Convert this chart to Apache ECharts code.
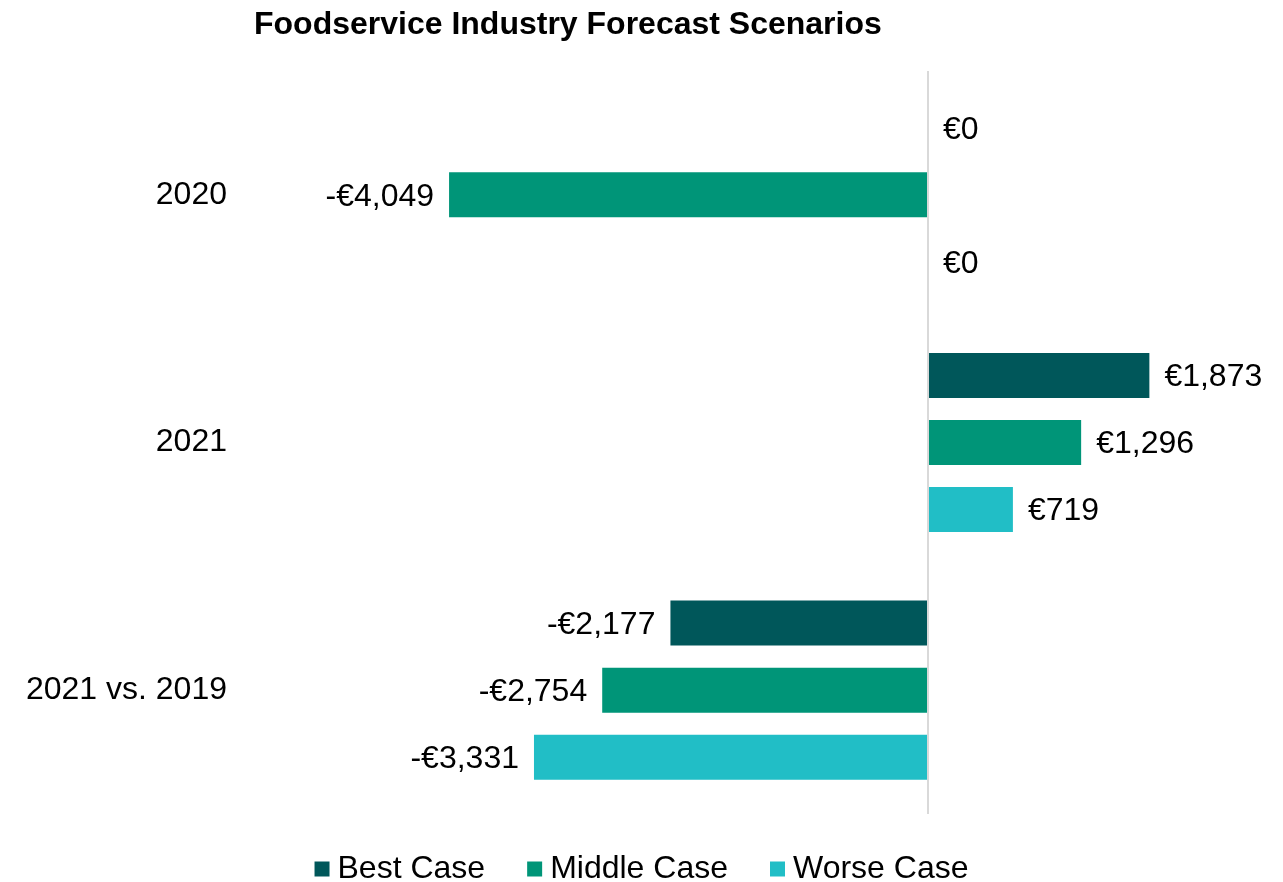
<!DOCTYPE html>
<html>
<head>
<meta charset="utf-8">
<title>Foodservice Industry Forecast Scenarios</title>
<script src="https://cdn.jsdelivr.net/npm/echarts@6/dist/echarts.min.js"></script>
<style>
    html, body { margin: 0; padding: 0; background: #fff; }
    #chart { width: 1283px; height: 882px; }
</style>
</head>
<body>
<div id="chart"></div>
<script>
// categories, top to bottom
var categories = ['2020', '2021', '2021 vs. 2019'];
var seriesNames = ['Best Case', 'Middle Case', 'Worse Case'];
var bestCase = [0, 1873, -2177];
var middleCase = [-4049, 1296, -2754];
var worseCase = [0, 719, -3331];
var colors = ['#00575A', '#009578', '#21BEC6'];

var font = '"Liberation Sans", Arial, sans-serif';

function euro(v) {
    var s = Math.abs(v).toLocaleString('en-US');
    return (v < 0 ? '-€' : '€') + s;
}

// label goes left for negative bars, right otherwise
function toData(values) {
    return values.map(function (v) {
        return { value: v, label: { position: v < 0 ? 'left' : 'right' } };
    });
}

var chart = echarts.init(document.getElementById('chart'));

var allValues = [bestCase, middleCase, worseCase];
var series = seriesNames.map(function (name, i) {
    var s = {
        name: name,
        type: 'bar',
        data: toData(allValues[i]),
        barWidth: 45,
        barGap: '49%',
        itemStyle: { color: colors[i] },
        label: {
            show: true,
            distance: 15,
            fontFamily: font,
            fontSize: 32,
            color: '#000',
            offset: [0, 2],
            formatter: function (p) { return euro(p.value); }
        }
    };
    if (i === 0) {
        // vertical zero line
        s.markLine = {
            silent: true,
            symbol: 'none',
            label: { show: false },
            lineStyle: { color: '#d9d9d9', width: 2, type: 'solid' },
            data: [{ xAxis: 0 }]
        };
    }
    return s;
});

var option = {
    animation: false,
    title: {
        text: 'Foodservice Industry Forecast Scenarios',
        left: 249,
        top: 4,
        textStyle: { fontFamily: font, fontSize: 32, fontWeight: 'bold', color: '#000' }
    },
    legend: {
        data: seriesNames,
        bottom: -8,
        left: 'center',
        itemWidth: 15,
        itemHeight: 15,
        itemGap: 42,
        icon: 'rect',
        textStyle: { fontFamily: font, fontSize: 32, color: '#000', padding: [0, 0, 0, 3] }
    },
    grid: {
        left: 242,
        right: 24,
        top: 71,
        bottom: 68,
        containLabel: false
    },
    xAxis: {
        type: 'value',
        min: -5800,
        max: 2800,
        show: false,
        splitLine: { show: false }
    },
    yAxis: {
        type: 'category',
        data: categories,
        inverse: true,
        axisLine: { show: false },
        axisTick: { show: false },
        axisLabel: {
            margin: 15,
            fontFamily: font,
            fontSize: 32,
            color: '#000'
        }
    },
    series: series
};

chart.setOption(option);
</script>
</body>
</html>
